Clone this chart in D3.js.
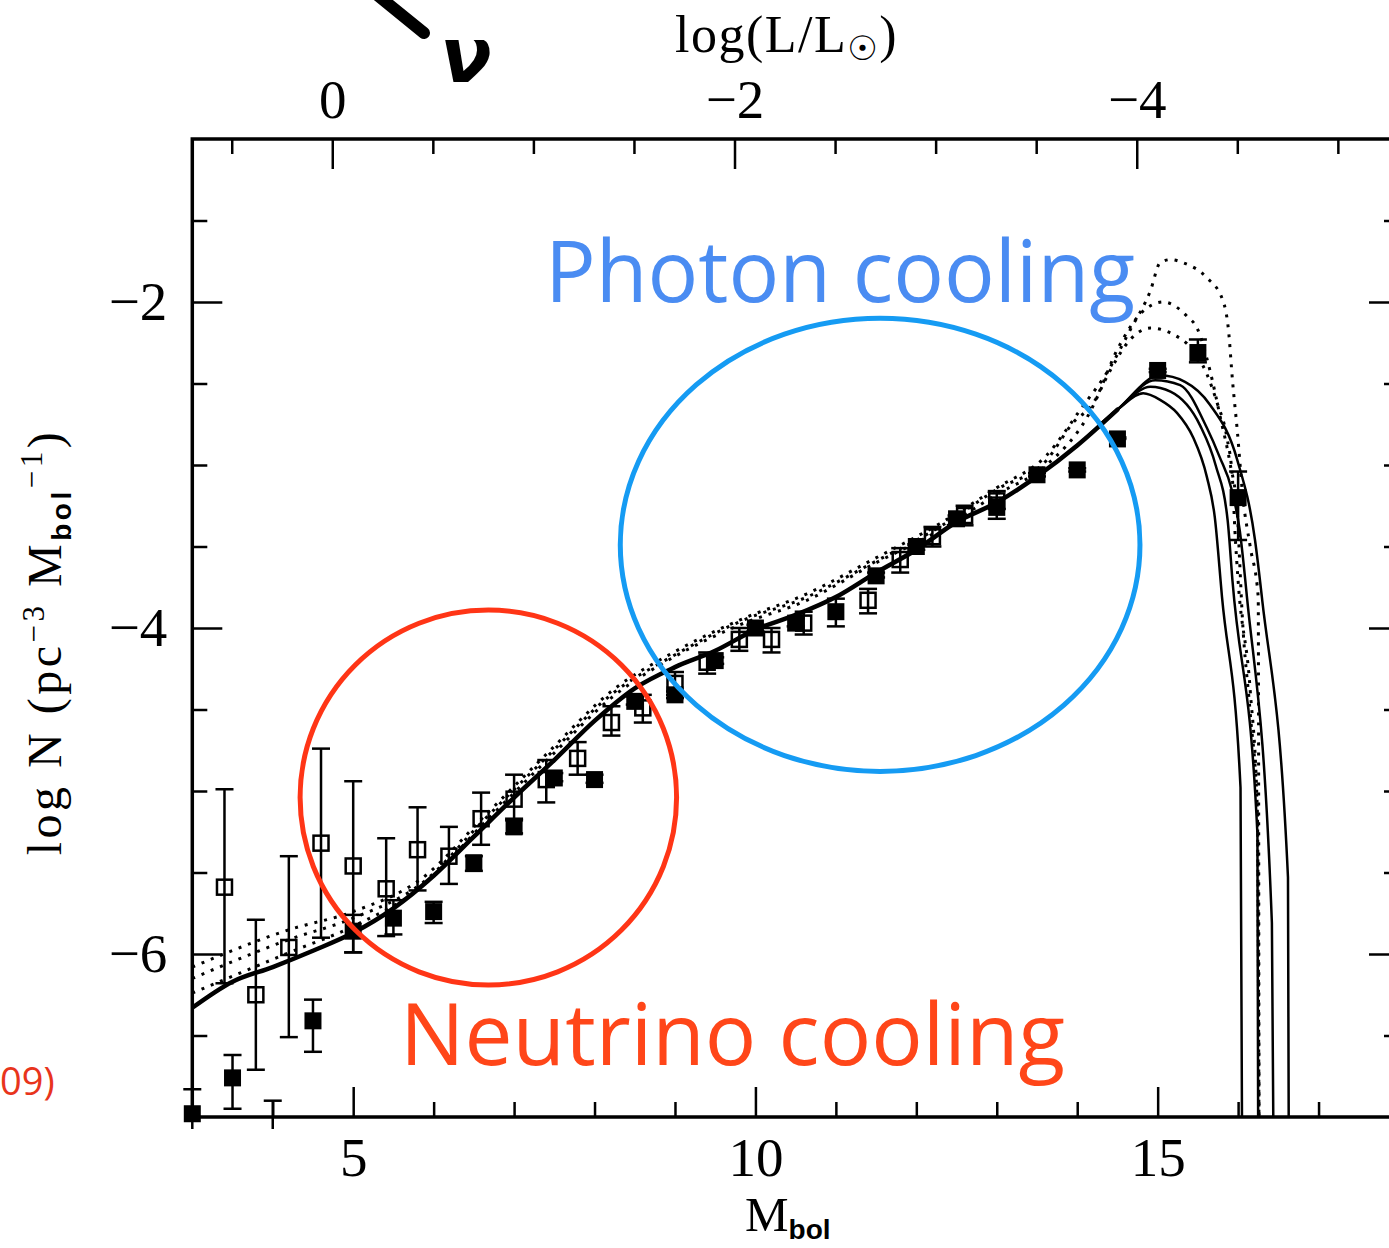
<!DOCTYPE html>
<html>
<head>
<meta charset="utf-8">
<script src="https://cdn.jsdelivr.net/npm/d3@7"></script>
<style>
  html, body { margin: 0; padding: 0; background: #fff; }
  svg { display: block; }
</style>
</head>
<body>
<svg id="chart"></svg>
<script>
// ---- values ----

// tick positions
const mbolMajor = [5, 10, 15];
const mbolMinor = [4, 6, 7, 8, 9, 11, 12, 13, 14, 16, 17];
const logLMajor = [0, -2, -4];
const logLMinor = [0.5, -0.5, -1, -1.5, -2.5, -3, -3.5, -4.5, -5];
const logNMajor = [-2, -4, -6];
const logNMinor = [-1.5, -2.5, -3, -3.5, -4.5, -5, -5.5, -6.5];

// open squares: [Mbol, logN, upper, lower]
const openPts = [
  [3.40, -5.59, -4.99, -6.18],
  [3.79, -6.25, -5.79, -6.71],
  [4.20, -5.96, -5.40, -6.51],
  [4.60, -5.32, -4.74, -5.90],
  [5.00, -5.46, -4.94, -5.99],
  [5.41, -5.60, -5.29, -5.89],
  [5.80, -5.36, -5.10, -5.61],
  [6.19, -5.40, -5.22, -5.57],
  [6.59, -5.17, -5.01, -5.33],
  [7.00, -5.05, -4.90, -5.17],
  [7.40, -4.93, -4.81, -5.07],
  [7.79, -4.80, -4.70, -4.90],
  [8.21, -4.58, -4.48, -4.66],
  [8.60, -4.49, -4.41, -4.58],
  [9.00, -4.34, -4.27, -4.41],
  [9.40, -4.21, -4.15, -4.28],
  [9.80, -4.07, -4.00, -4.14],
  [10.20, -4.07, -4.00, -4.15],
  [10.60, -3.97, -3.90, -4.04],
  [11.40, -3.83, -3.76, -3.91],
  [11.80, -3.58, -3.51, -3.66],
  [12.20, -3.44, -3.38, -3.50],
  [12.60, -3.31, -3.25, -3.37],
  [13.00, -3.22, -3.16, -3.27]
];

// filled squares: [Mbol, logN, upper, lower]
const filledPts = [
  [3.00, -6.98, -6.83, -7.12],
  [3.50, -6.76, -6.62, -6.95],
  [4.00, -7.25, -6.90, -7.60],
  [4.50, -6.41, -6.28, -6.60],
  [5.00, -5.86, -5.76, -5.99],
  [5.50, -5.78, -5.67, -5.88],
  [6.00, -5.74, -5.68, -5.81],
  [6.50, -5.44, -5.40, -5.49],
  [7.00, -5.22, -5.18, -5.26],
  [7.50, -4.92, -4.89, -4.94],
  [8.00, -4.93, -4.90, -4.95],
  [8.50, -4.45, -4.42, -4.47],
  [9.00, -4.41, -4.39, -4.43],
  [9.50, -4.20, -4.18, -4.22],
  [10.00, -4.00, -3.98, -4.02],
  [10.50, -3.97, -3.94, -3.99],
  [11.00, -3.90, -3.82, -3.99],
  [11.50, -3.68, -3.66, -3.69],
  [12.00, -3.50, -3.49, -3.52],
  [12.50, -3.33, -3.31, -3.34],
  [13.00, -3.26, -3.20, -3.33],
  [13.50, -3.06, -3.05, -3.07],
  [14.00, -3.03, -3.02, -3.04],
  [14.50, -2.84, -2.83, -2.84],
  [15.00, -2.42, -2.41, -2.43],
  [15.50, -2.31, -2.23, -2.37],
  [16.00, -3.20, -3.04, -3.46]
];

// common part of the solid model curves
const modelBody = [
  [3.0, -6.33], [3.5, -6.17], [4.0, -6.08], [4.5, -5.98], [5.0, -5.87],
  [5.5, -5.72], [6.0, -5.52], [6.5, -5.28], [7.0, -5.04], [7.5, -4.81],
  [8.0, -4.57], [8.5, -4.37], [9.0, -4.24], [9.5, -4.14], [10.0, -4.01],
  [10.5, -3.92], [11.0, -3.81], [11.5, -3.66], [12.0, -3.52], [12.5, -3.35],
  [13.0, -3.23], [13.5, -3.07], [14.0, -2.88], [14.5, -2.66]
];

// solid model curves past the peak
const tailA = [[14.82, -2.56], [15.03, -2.60], [15.24, -2.68], [15.44, -2.83], [15.61, -3.07],
  [15.71, -3.32], [15.80, -3.81], [16.03, -4.98], [16.05, -7.2]];
const tailB = [[14.91, -2.52], [15.16, -2.55], [15.53, -2.76], [15.72, -3.00], [15.87, -3.34],
  [15.93, -3.71], [16.24, -5.26], [16.25, -7.2]];
const tailC = [[14.97, -2.48], [15.28, -2.51], [15.61, -2.77], [15.77, -2.95], [15.92, -3.15],
  [16.02, -3.40], [16.11, -3.81], [16.42, -5.81], [16.44, -7.2]];
const tailD = [[15.03, -2.45], [15.34, -2.49], [15.65, -2.63], [15.99, -2.97], [16.21, -3.46],
  [16.30, -3.83], [16.62, -5.53], [16.63, -7.2]];

// dotted model curves
const dotted1 = [[3.00, -6.24], [4.21, -5.99], [5.00, -5.83], [5.87, -5.58], [6.62, -5.20],
  [7.41, -4.81], [8.23, -4.42], [8.98, -4.18], [9.81, -3.98], [10.64, -3.83], [11.46, -3.61],
  [12.29, -3.40], [13.00, -3.18], [13.62, -3.00], [14.12, -2.71], [14.41, -2.42], [14.66, -2.23],
  [14.91, -2.16], [15.20, -2.20], [15.41, -2.28], [15.61, -2.44], [15.74, -2.62], [15.86, -2.83],
  [15.93, -3.09], [15.96, -3.40], [16.00, -3.71], [16.15, -4.38], [16.24, -5.14], [16.26, -7.2]];
const dotted2 = [[3.00, -6.15], [4.21, -5.91], [5.00, -5.78], [5.87, -5.56], [6.62, -5.18],
  [7.41, -4.79], [8.23, -4.40], [8.98, -4.17], [9.81, -3.96], [10.64, -3.81], [11.46, -3.60],
  [12.29, -3.38], [13.00, -3.15], [13.62, -2.97], [13.95, -2.74], [14.20, -2.62], [14.50, -2.29],
  [14.79, -2.07], [15.07, -2.00], [15.37, -2.09], [15.49, -2.16], [15.65, -2.42], [15.78, -2.71],
  [15.90, -2.99], [15.99, -3.29], [16.02, -3.60], [16.05, -3.91], [16.15, -4.52], [16.24, -5.14],
  [16.26, -7.2]];
const dotted3 = [[3.00, -6.08], [4.21, -5.85], [5.00, -5.74], [5.87, -5.53], [6.62, -5.16],
  [7.41, -4.77], [8.23, -4.38], [8.98, -4.15], [9.81, -3.95], [10.64, -3.79], [11.46, -3.58],
  [12.29, -3.36], [13.00, -3.14], [13.62, -2.94], [14.04, -2.66], [14.41, -2.40], [14.66, -2.17],
  [14.91, -1.93], [15.03, -1.76], [15.16, -1.74], [15.32, -1.76], [15.61, -1.85], [15.81, -1.99],
  [15.88, -2.17], [15.93, -2.48], [15.99, -2.79], [16.06, -3.20], [16.15, -3.50], [16.25, -3.81],
  [16.26, -7.2]];

// highlighted regions: centre and half-widths in data units
const photonZone = { mbol: 11.55, logN: -3.49, dMbol: 3.23, dLogN: 1.39 };
const neutrinoZone = { mbol: 6.68, logN: -5.04, dMbol: 2.34, dLogN: 1.15 };

// ---- drawing ----
const W = 1389, H = 1248;
const serif = "'Liberation Serif', 'DejaVu Serif', serif";
const sans = "'Open Sans', 'Noto Sans', sans-serif";
const boldSans = "'Liberation Sans', Arial, sans-serif";

const svg = d3.select("#chart").attr("width", W).attr("height", H);

const x = d3.scaleLinear().domain([3, 18]).range([192.3, 1399]);
const y = d3.scaleLinear().domain([-7, -1]).range([1117, 139]);
// log(L/Lsun) = (4.74 - Mbol) / 2.5
const xTop = d3.scaleLinear().domain([(4.74 - 3) / 2.5, (4.74 - 18) / 2.5]).range([192.3, 1399]);

const x0 = x(3), x1 = x(18), y0 = y(-1), y1 = y(-7);

const defs = svg.append("defs");
defs.append("clipPath").attr("id", "clipLines")
  .append("rect").attr("x", x0).attr("y", y0).attr("width", x1 - x0).attr("height", y1 - y0);
defs.append("clipPath").attr("id", "clipMarks")
  .append("rect").attr("x", x0 - 12).attr("y", y0).attr("width", x1 - x0 + 12).attr("height", y1 - y0 + 12);

// frame
svg.append("rect")
  .attr("x", x0).attr("y", y0)
  .attr("width", x1 - x0).attr("height", y1 - y0)
  .attr("fill", "none").attr("stroke", "#000").attr("stroke-width", 3.5);

function addAxis(gen, tx, ty, size, values, labelled, padding) {
  const g = svg.append("g")
    .attr("transform", `translate(${tx},${ty})`)
    .call(gen.tickValues(values).tickSize(-size).tickSizeOuter(0).tickPadding(padding)
      .tickFormat(labelled ? d3.format("d") : ""));
  g.attr("font-family", null).attr("font-size", null);
  g.select(".domain").remove();
  g.selectAll(".tick line").attr("stroke", "#000").attr("stroke-width", 2.5);
  g.selectAll(".tick text")
    .attr("fill", "#000")
    .style("font-family", serif)
    .style("font-size", "55px");
  return g;
}

// bottom (Mbol)
addAxis(d3.axisBottom(x), 0, y1, 30, mbolMajor, true, 20);
addAxis(d3.axisBottom(x), 0, y1, 15, mbolMinor, false, 0);
// top (log L)
addAxis(d3.axisTop(xTop), 0, y0, 30, logLMajor, true, 21);
addAxis(d3.axisTop(xTop), 0, y0, 15, logLMinor, false, 0);
// left (log N)
addAxis(d3.axisLeft(y), x0, 0, 30, logNMajor, true, 25);
addAxis(d3.axisLeft(y), x0, 0, 15, logNMinor, false, 0);
// right
addAxis(d3.axisRight(y), x1, 0, 30, logNMajor, false, 0);
addAxis(d3.axisRight(y), x1, 0, 15, logNMinor, false, 0);

// model curves
const line = d3.line()
  .x(d => x(d[0]))
  .y(d => y(d[1]))
  .curve(d3.curveMonotoneX);

const curves = svg.append("g").attr("clip-path", "url(#clipLines)");

[dotted1, dotted2, dotted3].forEach(c => {
  curves.append("path")
    .attr("d", line(c))
    .attr("fill", "none")
    .attr("stroke", "#000")
    .attr("stroke-width", 3)
    .attr("stroke-dasharray", "3 7");
});

[tailA, tailB, tailC, tailD].forEach(t => {
  curves.append("path")
    .attr("d", line(modelBody.concat(t)))
    .attr("fill", "none")
    .attr("stroke", "#000")
    .attr("stroke-width", 2.5);
});

curves.append("path")
  .attr("d", line(modelBody))
  .attr("fill", "none")
  .attr("stroke", "#000")
  .attr("stroke-width", 4.5)
  .attr("stroke-linecap", "round");

// error bars and symbols
const marks = svg.append("g").attr("clip-path", "url(#clipMarks)");

function errorBars(pts) {
  const g = marks.append("g").attr("stroke", "#000").attr("stroke-width", 2.5);
  pts.forEach(d => {
    const cx = x(d[0]);
    g.append("line").attr("x1", cx).attr("x2", cx).attr("y1", y(d[2])).attr("y2", y(d[3]));
    g.append("line").attr("x1", cx - 9).attr("x2", cx + 9).attr("y1", y(d[2])).attr("y2", y(d[2]));
    g.append("line").attr("x1", cx - 9).attr("x2", cx + 9).attr("y1", y(d[3])).attr("y2", y(d[3]));
  });
}
errorBars(openPts);
errorBars(filledPts);

const sOpen = 15, sFill = 17;
marks.append("g").selectAll("rect")
  .data(openPts)
  .join("rect")
  .attr("x", d => x(d[0]) - sOpen / 2)
  .attr("y", d => y(d[1]) - sOpen / 2)
  .attr("width", sOpen).attr("height", sOpen)
  .attr("fill", "none")
  .attr("stroke", "#000")
  .attr("stroke-width", 2.5);

marks.append("g").selectAll("rect")
  .data(filledPts)
  .join("rect")
  .attr("x", d => x(d[0]) - sFill / 2)
  .attr("y", d => y(d[1]) - sFill / 2)
  .attr("width", sFill).attr("height", sFill)
  .attr("fill", "#000");

// highlighted regions
function zone(z, color, width) {
  svg.append("ellipse")
    .attr("cx", x(z.mbol)).attr("cy", y(z.logN))
    .attr("rx", x(z.mbol + z.dMbol) - x(z.mbol))
    .attr("ry", y(z.logN - z.dLogN) - y(z.logN))
    .attr("fill", "none")
    .attr("stroke", color)
    .attr("stroke-width", width);
}
zone(photonZone, "#159bf3", 5);
zone(neutrinoZone, "#ff3516", 5);

svg.append("text")
  .attr("x", 545).attr("y", 302)
  .attr("textLength", 590).attr("lengthAdjust", "spacingAndGlyphs")
  .style("font-family", sans).style("font-size", "86px")
  .attr("fill", "#4a8cf2")
  .text("Photon cooling");

svg.append("text")
  .attr("x", 400).attr("y", 1065)
  .attr("textLength", 665).attr("lengthAdjust", "spacingAndGlyphs")
  .style("font-family", sans).style("font-size", "86px")
  .attr("fill", "#ff4619")
  .text("Neutrino cooling");

// axis titles
const xt = svg.append("text")
  .attr("x", 745).attr("y", 1231)
  .style("font-family", serif).style("font-size", "49px")
  .attr("fill", "#000");
xt.append("tspan").text("M");
xt.append("tspan").attr("dy", 8)
  .style("font-family", boldSans)
  .style("font-weight", "bold").style("font-size", "28px").text("bol");

const tt = svg.append("text")
  .attr("x", 675).attr("y", 52)
  .style("font-family", serif).style("font-size", "52px")
  .style("letter-spacing", "1.5px")
  .attr("fill", "#000");
tt.append("tspan").text("log(L/L");
tt.append("tspan").attr("dy", 8).style("font-family", "'DejaVu Sans', sans-serif")
  .style("font-size", "34px").text("\u2609");
tt.append("tspan").attr("dy", -8).text(")");

const yt = svg.append("text")
  .attr("transform", "translate(61,642) rotate(-90)")
  .attr("text-anchor", "middle")
  .style("font-family", serif).style("font-size", "48px")
  .style("letter-spacing", "3.5px")
  .attr("fill", "#000");
yt.append("tspan").text("log N (pc");
yt.append("tspan").attr("dy", -17).style("font-size", "31px").text("\u22123");
yt.append("tspan").attr("dy", 17).text(" M");
yt.append("tspan").attr("dy", 10)
  .style("font-family", boldSans)
  .style("font-weight", "bold").style("font-size", "28px").text("bol");
yt.append("tspan").attr("dy", -29).style("font-size", "31px").text("\u22121");
yt.append("tspan").attr("dy", 19).text(")");

// pieces of the surrounding slide that fall inside the crop
svg.append("line")
  .attr("x1", 376).attr("y1", -6).attr("x2", 424).attr("y2", 33)
  .attr("stroke", "#000").attr("stroke-width", 12).attr("stroke-linecap", "round");
svg.append("text")
  .attr("x", 440).attr("y", 82)
  .style("font-family", "'DejaVu Sans', sans-serif").style("font-style", "italic")
  .style("font-weight", "bold")
  .style("font-size", "76px").attr("fill", "#000")
  .text("\u03bd");
svg.append("text")
  .attr("x", 0).attr("y", 1095)
  .style("font-family", sans).style("font-size", "38px")
  .attr("fill", "#e8341c")
  .text("09)");
</script>
</body>
</html>
